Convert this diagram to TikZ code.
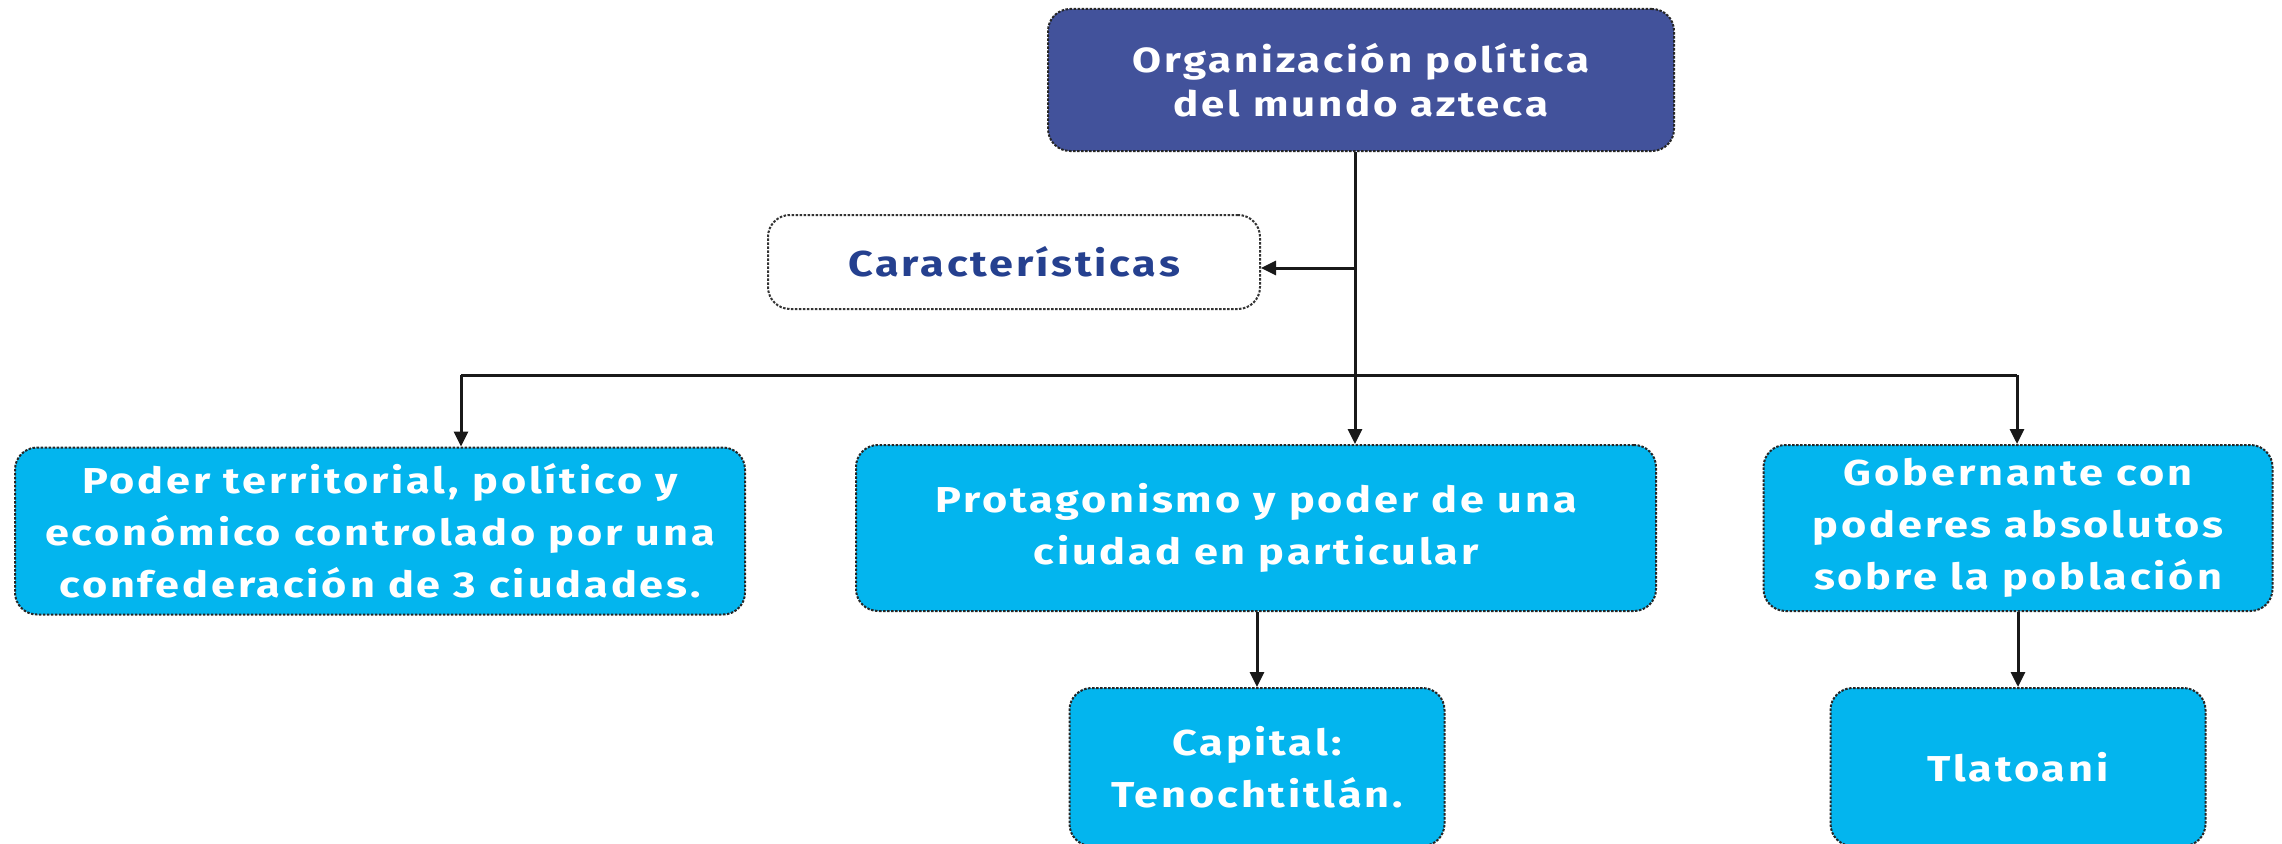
\documentclass[tikz,border=0pt]{standalone}
\usepackage{fontspec}
\setmainfont{Fira Sans}[FakeStretch=1.2, LetterSpace=8]
\usetikzlibrary{arrows.meta}
\definecolor{darkbox}{HTML}{42529B}
\definecolor{cyanbox}{HTML}{03B5EE}
\definecolor{titleblue}{HTML}{25408F}
\tikzset{
  box/.style={draw=black!85, line width=2pt, dash pattern=on 2.5pt off 1.5pt, rounded corners=22pt,
    fill=cyanbox, text=white, align=center, inner sep=0pt,
    font=\fontsize{36}{52}\selectfont\bfseries},
  topbox/.style={box, fill=darkbox, font=\fontsize{35}{44}\selectfont\bfseries},
  charbox/.style={box, fill=white, draw=black!80, text=titleblue},
  conn/.style={line width=3pt, draw=black!90},
  arr/.style={conn, -{Triangle[length=15pt,width=14pt]}}
}
\begin{document}
\begin{tikzpicture}[x=1pt,y=-1pt]
\useasboundingbox (0,0) rectangle (2282,843);
\node[topbox, minimum width=626pt, minimum height=142pt] (top) at (1361,80) {Organización política\\del mundo azteca};
\node[charbox, minimum width=492pt, minimum height=94pt] (car) at (1014,262) {Características};
\node[box, minimum width=730pt, minimum height=167pt] (left) at (380,531) {Poder territorial, político y\\económico controlado por una\\confederación de 3 ciudades.};
\node[box, minimum width=800pt, minimum height=166pt] (mid) at (1256,528) {Protagonismo y poder de una\\ciudad en particular};
\node[box, minimum width=509pt, minimum height=166pt] (right) at (2018,528) {Gobernante con\\poderes absolutos\\sobre la población};
\node[box, minimum width=375pt, minimum height=158pt] (cap) at (1257,767) {Capital:\\Tenochtitlán.};
\node[box, minimum width=375pt, minimum height=158pt] (tla) at (2018,767) {Tlatoani};
\coordinate (stemtop) at (1355,152);
\coordinate (branch) at (1355,268);
\coordinate (hl) at (461,375);
\coordinate (hr) at (2017,375);
\draw[arr] (top.south -| stemtop) -- (mid.north -| stemtop);
\draw[arr] (branch) -- (car.east |- branch);
\draw[conn] (hl) -- (hr);
\draw[arr] (hl) -- (left.north -| hl);
\draw[arr] (hr) -- (right.north -| hr);
\draw[arr] (mid.south -| cap.north) -- (cap.north);
\draw[arr] (right.south -| tla.north) -- (tla.north);
\end{tikzpicture}
\end{document}
